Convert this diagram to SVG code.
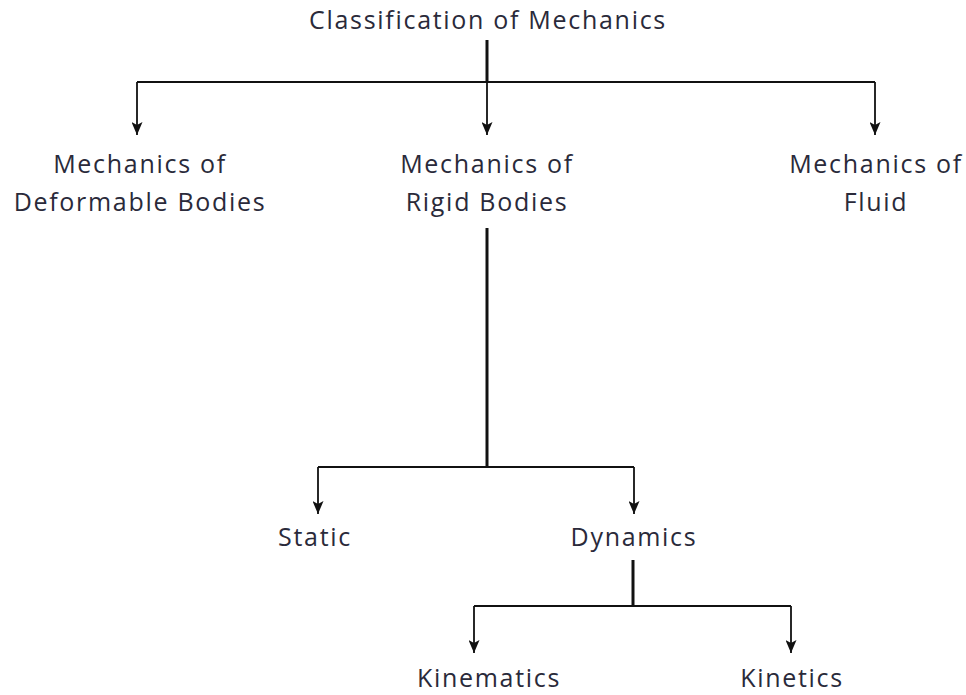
<svg xmlns="http://www.w3.org/2000/svg" width="966" height="695" viewBox="0 0 966 695">
<style>
text{font-family:"Open Sans","Liberation Sans",sans-serif;font-size:25px;letter-spacing:1.7px;fill:#2a2a3a;text-anchor:middle}
.thin{stroke:#111;stroke-width:1.8;fill:none}
.thick{stroke:#111;stroke-width:3;fill:none}
</style>
<defs>
<marker id="arr" viewBox="0 0 13 11" refX="13" refY="5.5" markerWidth="13" markerHeight="11" markerUnits="userSpaceOnUse" orient="auto">
<path d="M0,0 L13,5.5 L0,11 L3,5.5 Z" fill="#111"/>
</marker>
</defs>
<g id="connectors">
<line class="thick" x1="487" y1="40" x2="487" y2="82"/>
<line class="thin" x1="137" y1="82" x2="875" y2="82"/>
<path class="thin" d="M137,82 V135" marker-end="url(#arr)"/>
<path class="thin" d="M487,82 V135" marker-end="url(#arr)"/>
<path class="thin" d="M875,82 V135" marker-end="url(#arr)"/>
<line class="thick" x1="487" y1="228" x2="487" y2="467"/>
<line class="thin" x1="318" y1="467" x2="634" y2="467"/>
<path class="thin" d="M318,467 V514" marker-end="url(#arr)"/>
<path class="thin" d="M634,467 V514" marker-end="url(#arr)"/>
<line class="thick" x1="633" y1="560" x2="633" y2="606"/>
<line class="thin" x1="474" y1="606" x2="791" y2="606"/>
<path class="thin" d="M474,606 V653" marker-end="url(#arr)"/>
<path class="thin" d="M791,606 V653" marker-end="url(#arr)"/>
</g>
<g id="root"><text x="488" y="29">Classification of Mechanics</text></g>
<g id="deformable"><text x="140" y="173">Mechanics of</text><text x="140" y="211">Deformable Bodies</text></g>
<g id="rigid"><text x="487" y="173">Mechanics of</text><text x="487" y="211">Rigid Bodies</text></g>
<g id="fluid"><text x="876" y="173">Mechanics of</text><text x="876" y="211">Fluid</text></g>
<g id="static"><text x="315" y="546">Static</text></g>
<g id="dynamics"><text x="634" y="546">Dynamics</text></g>
<g id="kinematics"><text x="489" y="687">Kinematics</text></g>
<g id="kinetics"><text x="792" y="687">Kinetics</text></g>
</svg>
